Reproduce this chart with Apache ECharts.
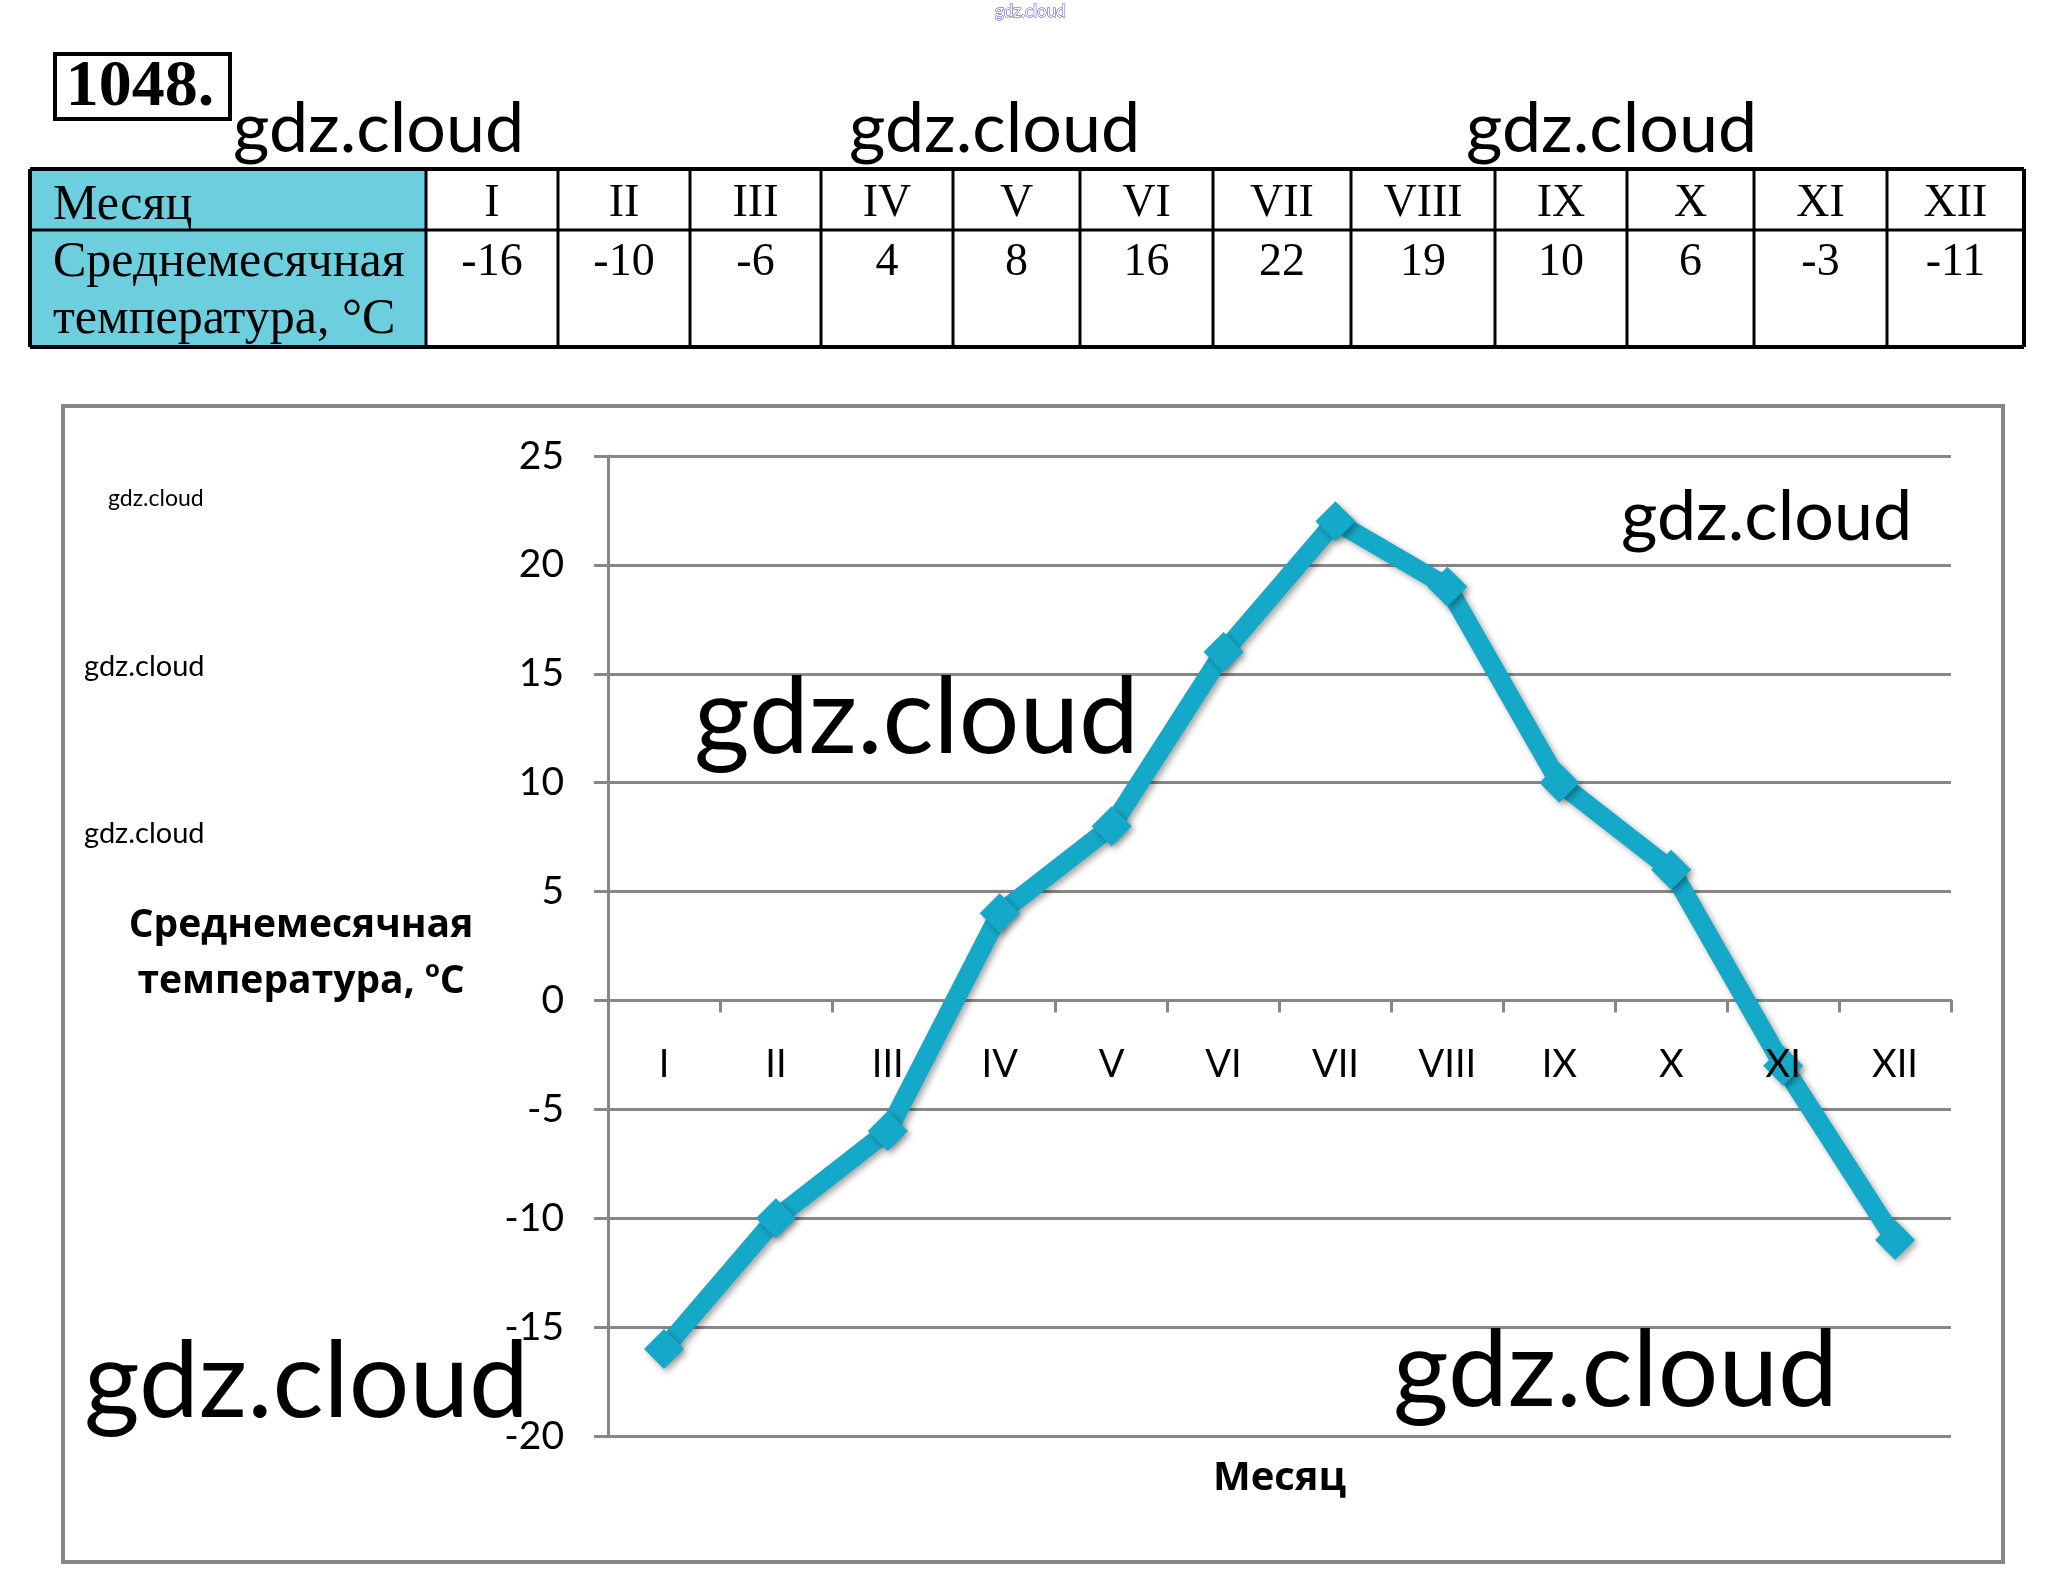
<!DOCTYPE html>
<html>
<head>
<meta charset="utf-8">
<script src="https://cdn.jsdelivr.net/npm/echarts@6/dist/echarts.min.js"></script>
<style>
  html, body { margin: 0; padding: 0; background: #fff; }
  #chart { width: 2067px; height: 1583px; }
</style>
</head>
<body>
<div id="chart"></div>
<script>
// ---- data ----
const months = ['I', 'II', 'III', 'IV', 'V', 'VI', 'VII', 'VIII', 'IX', 'X', 'XI', 'XII'];
const temps = [-16, -10, -6, 4, 8, 16, 22, 19, 10, 6, -3, -11];
const yMin = -20;
const yMax = 25;
const yStep = 5;
const rowHeaders = ['Месяц', 'Среднемесячная', 'температура, °C'];
const problemNumber = '1048.';
const xTitle = 'Месяц';
const yTitleLine1 = 'Среднемесячная';
const yTitleLine2 = 'температура, ';

// ---- layout / styles ----
const LINE_COLOR = '#15a9c9';
const GRID_COLOR = '#878787';
const CELL_FILL = '#6dcedd';
const tableCols = [30, 426, 558, 690, 821, 953, 1080, 1213, 1351, 1495, 1627, 1754, 1887, 2024];
const tableRows = [169, 230, 347];
const serif = '"Liberation Serif", "Times New Roman", serif';
const sans = 'Lato, "Open Sans", sans-serif';
const cyr = '"Open Sans", "Noto Sans", sans-serif';

const graphic = [];

// chart frame
graphic.push({ type: 'rect', shape: { x: 63, y: 406, width: 1940, height: 1156 },
  style: { fill: 'none', stroke: GRID_COLOR, lineWidth: 4 }, z: 0 });

// problem number box
graphic.push({ type: 'rect', shape: { x: 55, y: 54, width: 175, height: 65 },
  style: { fill: '#fff', stroke: '#000', lineWidth: 4 } });
graphic.push({ type: 'text', x: 140, y: 88,
  style: { text: problemNumber, font: 'bold 66px ' + serif, fill: '#000', align: 'center', verticalAlign: 'middle' } });

// table: header cell fill
graphic.push({ type: 'rect', shape: { x: tableCols[0], y: tableRows[0], width: tableCols[1] - tableCols[0], height: tableRows[2] - tableRows[0] },
  style: { fill: CELL_FILL } });
// horizontal lines
tableRows.forEach(function (y, i) {
  graphic.push({ type: 'line', shape: { x1: tableCols[0], y1: y, x2: tableCols[tableCols.length - 1], y2: y },
    style: { stroke: '#000', lineWidth: i === 1 ? 3 : 4 } });
});
// vertical lines
tableCols.forEach(function (x, i) {
  graphic.push({ type: 'line', shape: { x1: x, y1: tableRows[0], x2: x, y2: tableRows[2] },
    style: { stroke: '#000', lineWidth: (i === 0 || i === tableCols.length - 1) ? 4 : 3 } });
});
// header texts
graphic.push({ type: 'text', x: 53, y: 206, style: { text: rowHeaders[0], font: '50px ' + serif, fill: '#000', align: 'left', verticalAlign: 'middle' } });
graphic.push({ type: 'text', x: 53, y: 263, style: { text: rowHeaders[1], font: '50px ' + serif, fill: '#000', align: 'left', verticalAlign: 'middle' } });
graphic.push({ type: 'text', x: 53, y: 320, style: { text: rowHeaders[2], font: '50px ' + serif, fill: '#000', align: 'left', verticalAlign: 'middle' } });
months.forEach(function (m, i) {
  const cx = (tableCols[i + 1] + tableCols[i + 2]) / 2;
  graphic.push({ type: 'text', x: cx, y: 204, style: { text: m, font: '46px ' + serif, fill: '#000', align: 'center', verticalAlign: 'middle' } });
  graphic.push({ type: 'text', x: cx, y: 263, style: { text: String(temps[i]), font: '46px ' + serif, fill: '#000', align: 'center', verticalAlign: 'middle' } });
});

// watermarks
function wm(text, x, y, size) {
  graphic.push({ type: 'text', x: x, y: y, z: 100,
    style: { text: text, font: size + 'px ' + sans, fill: '#000', align: 'left', verticalAlign: 'bottom' } });
}
wm('gdz.cloud', 233, 164, 70);
wm('gdz.cloud', 849, 164, 70);
wm('gdz.cloud', 1466, 164, 70);
wm('gdz.cloud', 108, 510, 23);
wm('gdz.cloud', 84, 681, 29);
wm('gdz.cloud', 84, 848, 29);
wm('gdz.cloud', 694, 772, 107);
wm('gdz.cloud', 1621, 552, 70);
wm('gdz.cloud', 84, 1436, 107);
wm('gdz.cloud', 1393, 1425, 107);
graphic.push({ type: 'text', x: 995, y: 20, z: 100,
  style: { text: 'gdz.cloud', font: '17px ' + sans, fill: '#fff', stroke: '#3b3bd0', lineWidth: 1, align: 'left', verticalAlign: 'bottom' } });

const option = {
  animation: false,
  backgroundColor: '#fff',
  grid: { left: 608, right: 116, top: 456, bottom: 147, containLabel: false, outerBoundsMode: 'none' },
  xAxis: [{
    type: 'category',
    data: months,
    boundaryGap: true,
    position: 'bottom',
    name: xTitle,
    nameLocation: 'middle',
    nameGap: 43,
    nameTextStyle: { fontFamily: cyr, fontWeight: 'bold', fontSize: 40, color: '#000', verticalAlign: 'middle' },
    axisLine: { show: true, onZero: true, lineStyle: { color: GRID_COLOR, width: 3 } },
    axisTick: { show: true, length: 12, inside: false, lineStyle: { color: GRID_COLOR, width: 3 } },
    axisLabel: { show: false },
    splitLine: { show: false }
  }, {
    // labels only, drawn above the series line
    type: 'category',
    data: months,
    boundaryGap: true,
    position: 'bottom',
    z: 10,
    axisLine: { show: false, onZero: false },
    axisTick: { show: false },
    axisLabel: { margin: -390, fontFamily: sans, fontSize: 38, color: '#000' },
    splitLine: { show: false }
  }],
  yAxis: {
    type: 'value',
    min: yMin,
    max: yMax,
    interval: yStep,
    name: yTitleLine1 + '\n' + yTitleLine2 + '{sup|o}C',
    nameLocation: 'middle',
    nameRotate: 0,
    nameGap: 307,
    nameTextStyle: {
      fontFamily: cyr, fontWeight: 'bold', fontSize: 39, color: '#000',
      align: 'center', verticalAlign: 'middle', lineHeight: 56, padding: [16, 0, 0, 0],
      rich: {
        sup: { fontFamily: cyr, fontWeight: 'bold', fontSize: 24, color: '#000', padding: [0, 0, 24, 0], lineHeight: 56 }
      }
    },
    axisLine: { show: true, onZero: false, lineStyle: { color: GRID_COLOR, width: 3 } },
    axisTick: { show: true, length: 14, inside: false, lineStyle: { color: GRID_COLOR, width: 3 } },
    axisLabel: { margin: 44, fontFamily: sans, fontSize: 39, color: '#000' },
    splitLine: { show: true, lineStyle: { color: GRID_COLOR, width: 3 } }
  },
  series: [{
    type: 'line',
    xAxisIndex: 0,
    data: temps,
    symbol: 'diamond',
    symbolSize: 40,
    z: 5,
    lineStyle: { color: LINE_COLOR, width: 19, shadowBlur: 6, shadowColor: 'rgba(0,0,0,0.35)', shadowOffsetX: 3, shadowOffsetY: 3 },
    itemStyle: { color: LINE_COLOR, borderWidth: 0, shadowBlur: 6, shadowColor: 'rgba(0,0,0,0.35)', shadowOffsetX: 3, shadowOffsetY: 3 },
    emphasis: { disabled: true }
  }],
  graphic: graphic
};

const chart = echarts.init(document.getElementById('chart'), null, { renderer: 'canvas' });
chart.setOption(option);
</script>
</body>
</html>
